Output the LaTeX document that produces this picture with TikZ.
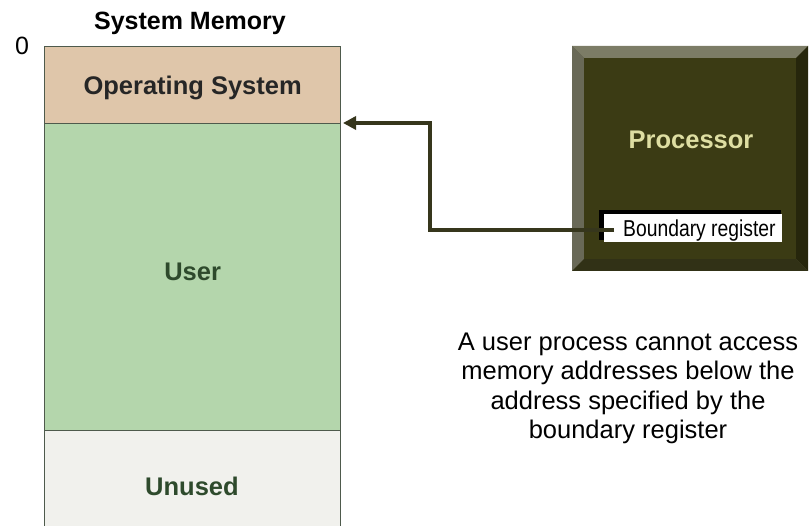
\documentclass[tikz,border=0pt]{standalone}
\usepackage{fontspec}
\setmainfont{Liberation Sans}
\newfontfamily\narrowfont[FakeStretch=0.84]{Liberation Sans}
\usetikzlibrary{arrows.meta}
\definecolor{osfill}{HTML}{DFC6AA}
\definecolor{userfill}{HTML}{B4D6AC}
\definecolor{unusedfill}{HTML}{F1F1ED}
\definecolor{memedge}{HTML}{4E5A4C}
\definecolor{memtext}{HTML}{2E4A2C}
\definecolor{cpuface}{HTML}{3B3B14}
\definecolor{cpulight}{HTML}{7C7C66}
\definecolor{cpumid}{HTML}{5E5E40}
\definecolor{cpudark}{HTML}{26260C}
\definecolor{cputext}{HTML}{DEDEA2}
\definecolor{wire}{HTML}{36361C}
\tikzset{
  x=1pt, y=-1pt,
  memblock/.style={draw=memedge, line width=1.3pt, minimum width=296pt, inner sep=0pt, anchor=north west},
  memlabel/.style={font=\bfseries\fontsize{25.5}{30}\selectfont, text=memtext},
  wirearrow/.style={draw=wire, line width=3.6pt, -{Triangle[length=13pt,width=13pt]}},
}
\begin{document}
\begin{tikzpicture}
\useasboundingbox (0,0) rectangle (809,526);

% title and address zero
\node[font=\bfseries\fontsize{25}{30}\selectfont] (title) at (190,23) {System Memory};
\node[font=\fontsize{25}{30}\selectfont] (zero) at (22,46) {0};

% memory column
\begin{scope}
\clip (0,0) rectangle (809,526);
\node[memblock, fill=osfill, minimum height=77pt] (os) at (44,46) {};
\node[memblock, fill=userfill, minimum height=307pt] (user) at (44,123) {};
\node[memblock, fill=unusedfill, minimum height=110pt] (unused) at (44,430) {};
\end{scope}
\node[memlabel, text=black!85] at ([yshift=-3pt]os.center) {Operating System};
\node[memlabel] at ([yshift=5pt]user.center) {User};
\node[memlabel] at (192,486) {Unused};

% processor with bevelled frame
\fill[cpumid] (572,46) rectangle (808,271);
\fill[cpulight] (572,46) -- (808,46) -- (796,58) -- (584,58) -- cycle;
\fill[cpulight!85!black] (572,46) -- (584,58) -- (584,259) -- (572,271) -- cycle;
\fill[cpudark] (808,46) -- (808,271) -- (796,259) -- (796,58) -- cycle;
\fill[cpudark!80!cpumid] (572,271) -- (808,271) -- (796,259) -- (584,259) -- cycle;
\node[fill=cpuface, minimum width=212pt, minimum height=201pt, inner sep=0pt] (cpu) at (690,158.5) {};
\node[font=\bfseries\fontsize{25.5}{30}\selectfont, text=cputext] (cpulabel) at (691,140) {Processor};

% boundary register
\fill[black] (599,210) rectangle (781,240);
\node[fill=white, minimum width=178pt, minimum height=28pt, inner sep=0pt, anchor=north west] (reg) at (604,214) {};
\node[font=\narrowfont\fontsize{23}{26}\selectfont, anchor=west, inner sep=0pt] (reglabel) at (623,231) {Boundary register};

% connector from the register to the boundary address
\coordinate (start) at (614,230);
\coordinate (bend) at (430,123);
\coordinate (tip) at (343,123);
\draw[wirearrow] (start) -| (bend) -- (tip);

% explanation
\node[align=center, font=\fontsize{25.5}{29.4}\selectfont] (note) at (628,388.5)
  {A user process cannot access\\memory addresses below the\\address specified by the\\boundary register};
\end{tikzpicture}
\end{document}
